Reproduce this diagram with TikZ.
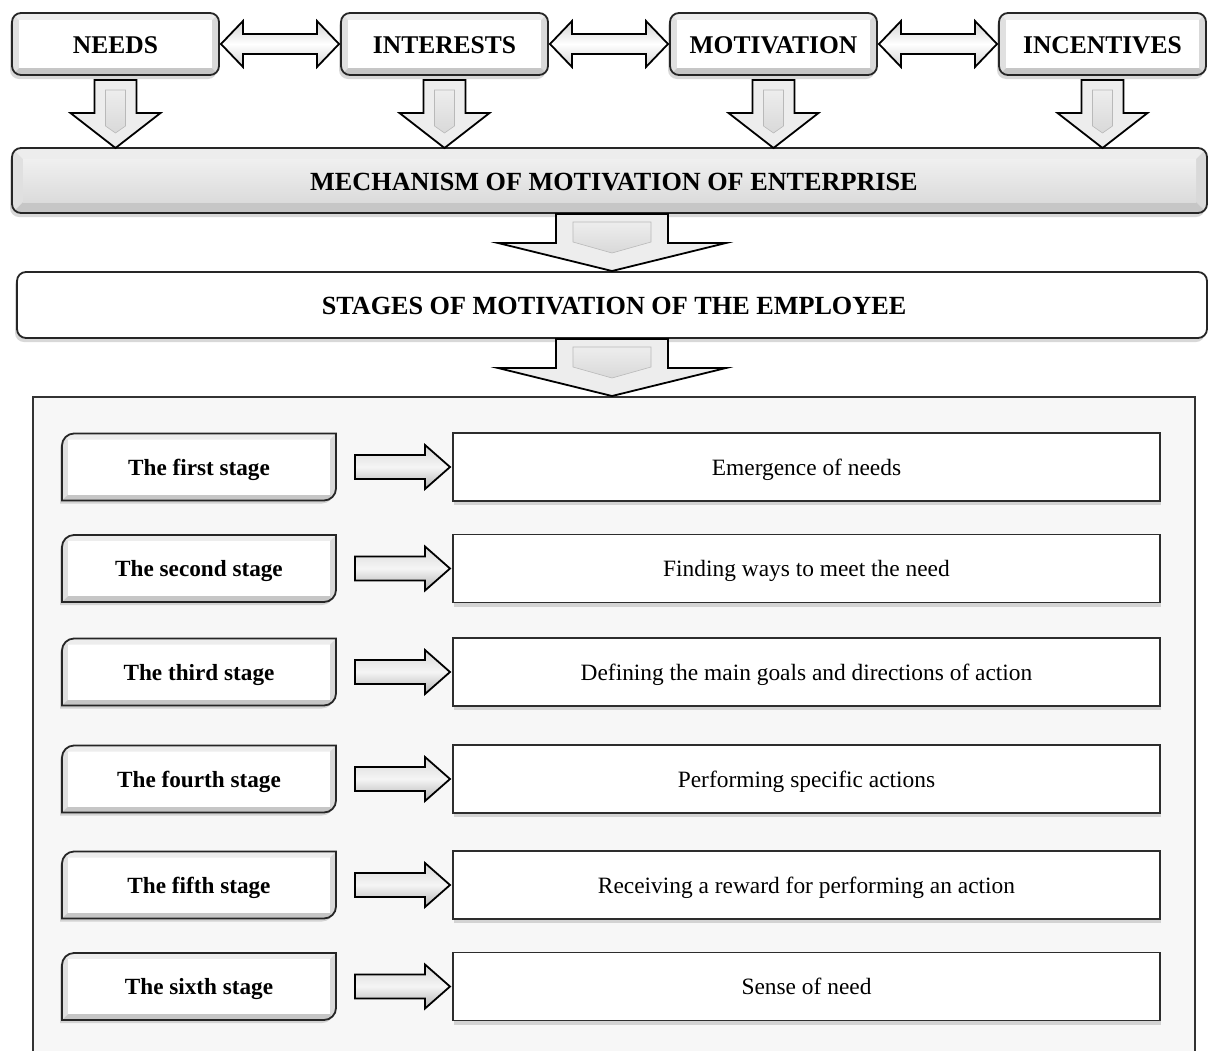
\documentclass[tikz,border=0pt]{standalone}
\usepackage{fontspec}
\setmainfont{Liberation Serif}
\usetikzlibrary{shadows,calc}
\tikzset{
  bevel/.style 2 args={path picture={
    \begin{scope}[sharp corners]
    \fill[gray!14] (path picture bounding box.north west) -- (path picture bounding box.north east)
      -- ([xshift=-#1,yshift=-#1]path picture bounding box.north east) -- ([xshift=#1,yshift=-#1]path picture bounding box.north west) -- cycle;
    \fill[gray!24] (path picture bounding box.north west) -- (path picture bounding box.south west)
      -- ([xshift=#1,yshift=#1]path picture bounding box.south west) -- ([xshift=#1,yshift=-#1]path picture bounding box.north west) -- cycle;
    \fill[gray!30] (path picture bounding box.north east) -- (path picture bounding box.south east)
      -- ([xshift=-#1,yshift=#1]path picture bounding box.south east) -- ([xshift=-#1,yshift=-#1]path picture bounding box.north east) -- cycle;
    \fill[gray!45] (path picture bounding box.south west) -- (path picture bounding box.south east)
      -- ([xshift=-#1,yshift=#1]path picture bounding box.south east) -- ([xshift=#1,yshift=#1]path picture bounding box.south west) -- cycle;
    \path[#2] ([xshift=#1,yshift=-#1]path picture bounding box.north west) rectangle ([xshift=-#1,yshift=#1]path picture bounding box.south east);
    \end{scope}}},
  topbox/.style={draw=black!85, line width=1.8pt, rounded corners=9pt, fill=white,
    minimum width=207pt, minimum height=62pt, inner sep=0pt, outer sep=0pt,
    text height=18.5pt, text depth=0pt,
    font=\fontsize{25.5}{30}\selectfont\bfseries,
    drop shadow={shadow xshift=-2pt,shadow yshift=-4pt,opacity=0.3},
    bevel={7pt}{fill=white}},
  widebox/.style={draw=black!85, line width=1.8pt, rounded corners=9pt, fill=white,
    inner sep=0pt, outer sep=0pt, text height=19pt, text depth=0pt,
    font=\fontsize{26.2}{31}\selectfont\bfseries,
    drop shadow={shadow xshift=-2pt,shadow yshift=-4pt,opacity=0.3}},
  stageframe/.style={draw=black!85, line width=1.8pt, fill=white,
    drop shadow={shadow xshift=-2pt,shadow yshift=-3pt,opacity=0.3},
    bevel={6pt}{fill=white}},
  stagebox/.style={minimum width=274pt, minimum height=67pt, inner sep=0pt, outer sep=0pt,
    text height=18pt, text depth=2pt,
    font=\fontsize{23.2}{28}\selectfont\bfseries},
  descbox/.style={draw=gray!35!black, line width=1.3pt, fill=white,
    minimum width=707pt, minimum height=68pt, inner sep=0pt, outer sep=0pt,
    text height=18pt, text depth=2pt,
    font=\fontsize{23.4}{28}\selectfont,
    drop shadow={shadow xshift=1pt,shadow yshift=-4pt,opacity=0.3}},
  panelbox/.style={draw=gray!40!black, line width=1.5pt, fill=gray!6},
  blockarrow/.style={draw=black, line width=1.8pt, line join=miter},
  hdbl/.style={blockarrow, top color=gray!35, bottom color=gray!35, middle color=white},
  downarr/.style={blockarrow, fill=gray!14},
  innerarr/.style={draw=gray!55, line width=0.6pt, top color=gray!14, bottom color=gray!30},
  rarr/.style={blockarrow, top color=gray!30, bottom color=gray!60, middle color=gray!8}
}
\begin{document}
\begin{tikzpicture}[x=1pt,y=-1pt]
\useasboundingbox (0,0) rectangle (1208,1050);
\fill[white] (0,0) rectangle (1208,1050);

% top row
\node[topbox] (needs) at (115.5,44) {NEEDS};
\node[topbox] (interests) at (444.5,44) {INTERESTS};
\node[topbox] (motivation) at (773.5,44) {MOTIVATION};
\node[topbox] (incentives) at (1102.5,44) {INCENTIVES};

% horizontal double arrows
\foreach \a in {needs,interests,motivation}{
  \begin{scope}[shift={(\a.east)}]
    \draw[hdbl] (2,0) -- (24,-23) -- (24,-10) -- (98,-10) -- (98,-23) -- (120,0)
      -- (98,23) -- (98,10) -- (24,10) -- (24,23) -- cycle;
  \end{scope}
}

% mechanism box
\node[widebox, minimum width=1195pt, minimum height=65pt,
  bevel={11pt}{top color=gray!12,bottom color=gray!28}] (mech) at (609.5,180.5)
  {\hspace*{9pt}MECHANISM OF MOTIVATION OF ENTERPRISE};

% down arrows from top boxes
\foreach \a in {needs,interests,motivation,incentives}{
  \begin{scope}[shift={(\a.south)}]
    \draw[downarr] (-21,5) -- (21,5) -- (21,38) -- (45,38) -- (0,73) -- (-45,38) -- (-21,38) -- cycle;
    \draw[innerarr] (-10,15) -- (10,15) -- (10,51) -- (0,58) -- (-10,51) -- cycle;
  \end{scope}
}

% stages box
\node[widebox, minimum width=1190pt, minimum height=66pt] (stages) at (612,305)
  {\hspace*{4pt}STAGES OF MOTIVATION OF THE EMPLOYEE};

% big arrow mech -> stages
\begin{scope}[shift={(mech.south)}, xshift=2.5pt]
  \draw[downarr] (-56,1) -- (56,1) -- (56,30) -- (114,30) -- (0,58) -- (-114,30) -- (-56,30) -- cycle;
  \draw[innerarr] (-39,9) -- (39,9) -- (39,29) -- (0,40) -- (-39,29) -- cycle;
\end{scope}

% panel
\node[panelbox, minimum width=1162pt, minimum height=680pt, inner sep=0pt, outer sep=0pt, anchor=north west] (panel) at (33,397) {};

% big arrow stages -> panel
\begin{scope}[shift={(stages.south)}]
  \draw[downarr] (-56,1) -- (56,1) -- (56,30) -- (114,30) -- (0,58) -- (-114,30) -- (-56,30) -- cycle;
  \draw[innerarr] (-39,9) -- (39,9) -- (39,29) -- (0,40) -- (-39,29) -- cycle;
\end{scope}

% stage rows
\foreach \n/\y/\s/\d in {1/467/The first stage/Emergence of needs,
  2/568.5/The second stage/Finding ways to meet the need,
  3/672/The third stage/Defining the main goals and directions of action,
  4/779/The fourth stage/Performing specific actions,
  5/885/The fifth stage/Receiving a reward for performing an action,
  6/986.5/The sixth stage/Sense of need}{
  \begin{scope}[shift={(199,\y)}]
    \path[stageframe] (-137,33.5) -- (-137,-21.5) .. controls (-137,-28.1) and (-131.6,-33.5) .. (-125,-33.5)
      -- (137,-33.5) -- (137,21.5) .. controls (137,28.1) and (131.6,33.5) .. (125,33.5) -- cycle;
  \end{scope}
  \node[stagebox] (st\n) at (199,\y) {\s};
  \node[descbox] (ds\n) at (806.5,\y) {\d};
  \begin{scope}[shift={(st\n.east)}]
    \draw[rarr] (19,-12) -- (89,-12) -- (89,-22) -- (114,0) -- (89,22) -- (89,12) -- (19,12) -- cycle;
  \end{scope}
}
\end{tikzpicture}
\end{document}
